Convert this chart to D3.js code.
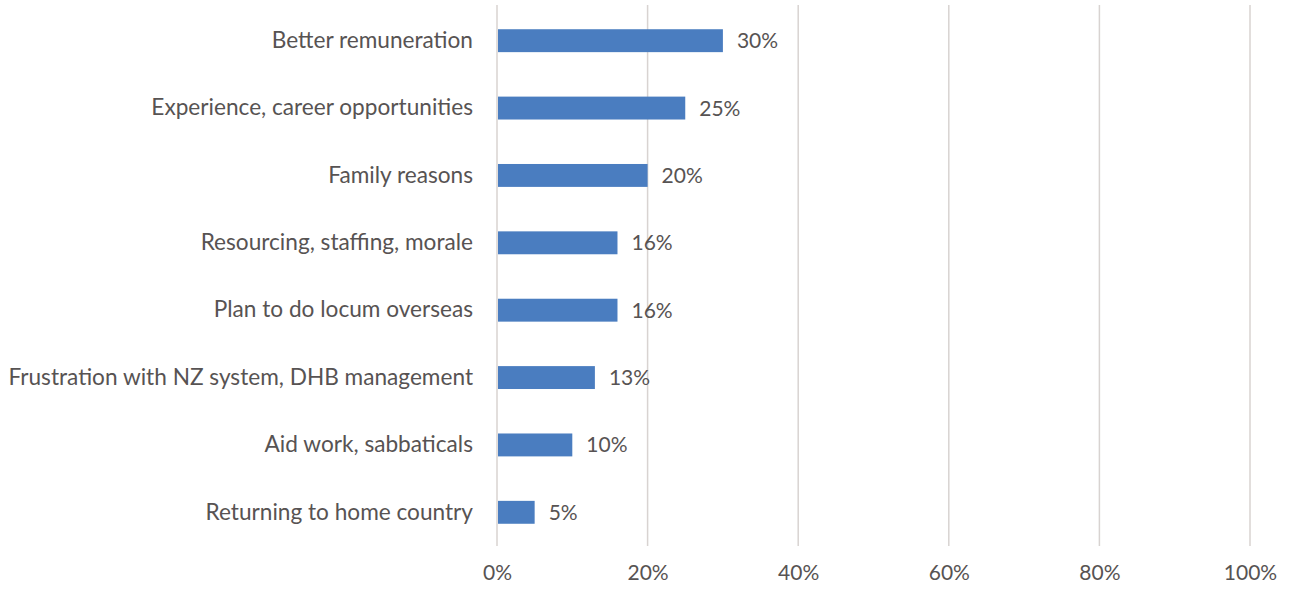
<!DOCTYPE html>
<html>
<head>
<meta charset="utf-8">
<script src="https://cdn.jsdelivr.net/npm/d3@7"></script>
<style>
  html, body { margin: 0; padding: 0; background: #ffffff; }
  svg { display: block; }
</style>
</head>
<body>
<svg id="chart" width="1295" height="589"></svg>
<script>
// Reasons for leaving, share of respondents
const categories = [
  "Better remuneration",
  "Experience, career opportunities",
  "Family reasons",
  "Resourcing, staffing, morale",
  "Plan to do locum overseas",
  "Frustration with NZ system, DHB management",
  "Aid work, sabbaticals",
  "Returning to home country"
];
const values = [30, 25, 20, 16, 16, 13, 10, 5];
const tickValues = [0, 20, 40, 60, 80, 100];

const svg = d3.select("#chart");
const fontFamily = "Lato, 'Open Sans', sans-serif";
const textColor = "#575353";
const numberSize = 21;

const margin = { left: 497, right: 45, top: 7, bottom: 43 };
const width = 1295, height = 589;

const x = d3.scaleLinear()
  .domain([0, 100])
  .range([margin.left, width - margin.right]);

const y = d3.scaleBand()
  .domain(categories)
  .range([margin.top, height - margin.bottom])
  .paddingInner(0.66)
  .paddingOuter(0.33);

// vertical gridlines
svg.append("g")
  .selectAll("line")
  .data(tickValues)
  .join("line")
  .attr("x1", d => x(d)).attr("x2", d => x(d))
  .attr("y1", 5).attr("y2", 546)
  .attr("stroke", "#d8d3d1")
  .attr("stroke-width", 1.5);

// bars
svg.append("g")
  .selectAll("rect")
  .data(values)
  .join("rect")
  .attr("x", x(0) + 1)
  .attr("y", (d, i) => y(categories[i]))
  .attr("width", d => x(d) - x(0) - 1)
  .attr("height", y.bandwidth())
  .attr("fill", "#4a7dc0");

// value labels
svg.append("g")
  .selectAll("text")
  .data(values)
  .join("text")
  .attr("x", d => x(d) + 14)
  .attr("y", (d, i) => y(categories[i]) + y.bandwidth() / 2)
  .attr("dy", "0.36em")
  .attr("font-family", fontFamily)
  .attr("font-size", numberSize)
  .attr("fill", textColor)
  .text(d => d + "%");

// category axis labels
const yAxis = d3.axisLeft(y).tickSize(0).tickPadding(24);
const yg = svg.append("g")
  .attr("transform", `translate(${margin.left},0)`)
  .call(yAxis);
yg.select(".domain").remove();
yg.selectAll("text")
  .attr("font-family", fontFamily)
  .attr("font-size", 21)
  .attr("fill", textColor);

// fit the longest label into the space left of the axis
let maxW = 0;
yg.selectAll("text").each(function () { maxW = Math.max(maxW, this.getComputedTextLength()); });
yg.selectAll("text").attr("font-size", 21 * 465 / maxW);

// percentage axis labels
const xAxis = d3.axisBottom(x)
  .tickValues(tickValues)
  .tickFormat(d => d + "%")
  .tickSize(0)
  .tickPadding(0);
const xg = svg.append("g")
  .attr("transform", `translate(0,${height - margin.bottom})`)
  .call(xAxis);
xg.select(".domain").remove();
xg.selectAll("text")
  .attr("font-family", fontFamily)
  .attr("font-size", numberSize)
  .attr("fill", textColor)
  .attr("y", 26)
  .attr("dy", "0.36em");
</script>
</body>
</html>
